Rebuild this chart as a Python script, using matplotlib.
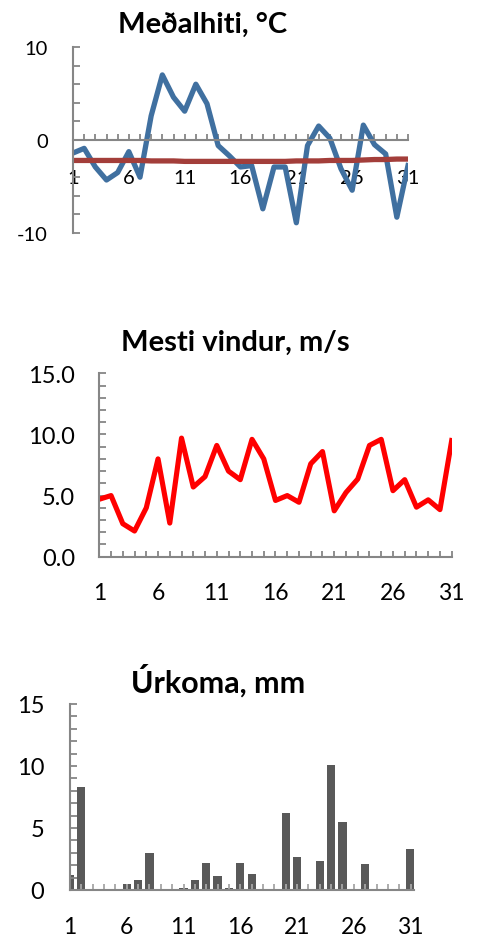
import numpy as np
import matplotlib.pyplot as plt
from matplotlib.ticker import MultipleLocator, FixedLocator

plt.rcParams['font.family'] = ['Lato', 'DejaVu Sans']
plt.rcParams['axes.unicode_minus'] = False

days = list(range(1, 32))

# Meðalhiti
temp = [-1.4, -0.9, -2.9, -4.3, -3.5, -1.25, -4.0, 2.6, 7.0, 4.6, 3.1, 6.0, 3.9, -0.6, -1.7, -2.9,
        -2.75, -7.4, -2.9, -2.9, -8.9, -0.6, 1.5, 0.2, -3.1, -5.4, 1.6, -0.5, -1.5, -8.3, -2.75]
temp_normal = [-2.2, -2.2, -2.2, -2.2, -2.2, -2.2, -2.2, -2.25, -2.25, -2.25, -2.3, -2.3, -2.3, -2.3, -2.3, -2.3,
               -2.3, -2.3, -2.3, -2.3, -2.25, -2.25, -2.25, -2.2, -2.2, -2.2, -2.15, -2.1, -2.1, -2.05, -2.05]

# Mesti vindur
wind = [4.7, 5.0, 2.7, 2.1, 4.0, 8.0, 2.75, 9.7, 5.7, 6.55, 9.1, 7.0, 6.3, 9.6, 8.0, 4.6,
        5.0, 4.45, 7.6, 8.6, 3.75, 5.25, 6.35, 9.1, 9.6, 5.4, 6.3, 4.05, 4.65, 3.85, 9.5]

# Úrkoma
rain = [1.2, 8.3, 0, 0, 0.1, 0.5, 0.8, 3.0, 0, 0, 0.2, 0.8, 2.2, 1.1, 0.2, 2.2,
        1.3, 0, 0.1, 6.2, 2.7, 0, 2.3, 10.1, 5.5, 0, 2.1, 0, 0, 0, 3.3]

xlabels_at = [1, 6, 11, 16, 21, 26, 31]
gray = '#868686'

W, H = 478, 937
fig = plt.figure(figsize=(W / 100, H / 100), dpi=100)


def box(x0, x1, y0, y1):
    return [x0 / W, 1 - y1 / H, (x1 - x0) / W, (y1 - y0) / H]


def style(ax, ylab_size, xlab_size, ypad, xpad):
    for s in ['top', 'right']:
        ax.spines[s].set_visible(False)
    for s in ['left', 'bottom']:
        ax.spines[s].set_color(gray)
        ax.spines[s].set_linewidth(1.5)
    ax.xaxis.set_major_locator(FixedLocator(xlabels_at))
    ax.xaxis.set_minor_locator(MultipleLocator(1))
    ax.tick_params(axis='both', which='both', direction='in', color=gray, width=1.3)
    ax.tick_params(axis='x', which='both', length=4.5, pad=xpad, labelsize=xlab_size)
    ax.tick_params(axis='y', which='both', length=5, pad=ypad, labelsize=ylab_size)


# --- Meðalhiti ---
ax1 = fig.add_axes(box(73, 408, 48, 234))
ax1.plot(days, temp, color='#4070A0', lw=3.8, zorder=2)
ax1.plot(days, temp_normal, color='#A33E3A', lw=3.8, zorder=2.2)
ax1.set_xlim(1, 31)
ax1.set_ylim(-10, 10)
ax1.spines['bottom'].set_position(('data', 0))
ax1.yaxis.set_major_locator(FixedLocator([-10, 0, 10]))
ax1.yaxis.set_minor_locator(MultipleLocator(2))
style(ax1, 14.5, 14.5, 18, 21)
fig.text(203 / W, 1 - 33 / H, 'Meðalhiti, °C', ha='center', va='baseline',
         fontsize=21, fontweight='bold')

# --- Mesti vindur ---
ax2 = fig.add_axes(box(99.3, 451.7, 374.3, 557.7))
ax2.plot(days, wind, color='#FF0000', lw=3.7)
ax2.set_xlim(1, 31)
ax2.set_ylim(0, 15)
ax2.yaxis.set_major_locator(FixedLocator([0, 5, 10, 15]))
ax2.yaxis.set_minor_locator(MultipleLocator(1))
ax2.yaxis.set_major_formatter('{x:.1f}')
style(ax2, 17, 16.5, 17.5, 18.5)
fig.text(235 / W, 1 - 351 / H, 'Mesti vindur, m/s', ha='center', va='baseline',
         fontsize=21, fontweight='bold')

# --- Úrkoma ---
ax3 = fig.add_axes(box(70, 414, 705, 891))
ax3.bar(days, rain, width=0.73, color='#595959')
ax3.set_xlim(1, 31.3)
ax3.set_ylim(0, 15)
ax3.yaxis.set_major_locator(FixedLocator([0, 5, 10, 15]))
ax3.yaxis.set_minor_locator(MultipleLocator(1))
style(ax3, 17, 16.5, 18.5, 18.5)
ax3.tick_params(axis='x', which='both', color='#A6A6A6')
fig.text(218 / W, 1 - 693 / H, 'Úrkoma, mm', ha='center', va='baseline',
         fontsize=22, fontweight='bold')

fig.savefig('out.png', dpi=100)
